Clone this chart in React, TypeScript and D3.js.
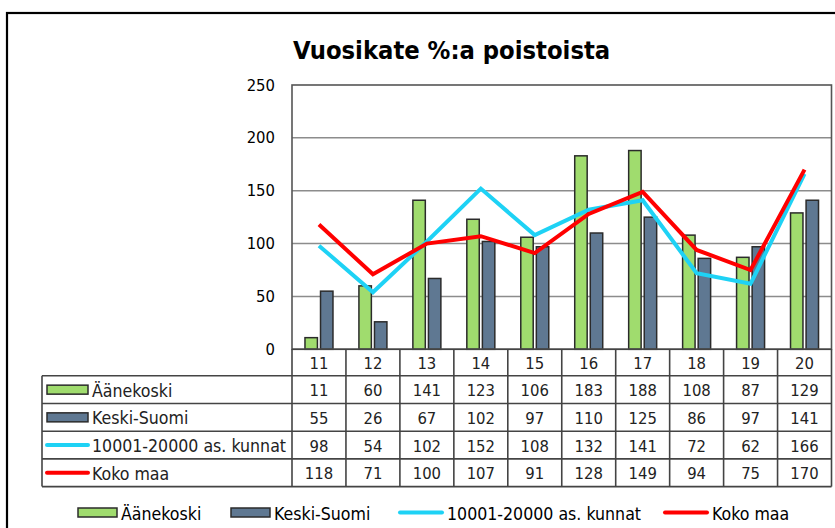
import {useEffect, useRef} from "react";
import * as d3 from "d3";

const categories = ["11", "12", "13", "14", "15", "16", "17", "18", "19", "20"];
const aanekoski = [11, 60, 141, 123, 106, 183, 188, 108, 87, 129];
const keskiSuomi = [55, 26, 67, 102, 97, 110, 125, 86, 97, 141];
const kunnat = [98, 54, 102, 152, 108, 132, 141, 72, 62, 166];
const kokoMaa = [118, 71, 100, 107, 91, 128, 149, 94, 75, 170];
const yTicks = [0, 50, 100, 150, 200, 250];

const GREEN = "#a0dc6e";
const BLUE = "#5f7892";
const CYAN = "#1ed2f5";
const RED = "#ff0000";
const FONT = "'DejaVu Sans Condensed', 'DejaVu Sans', sans-serif";

export default function App() {
    const ref = useRef<SVGSVGElement>(null);

    useEffect(() => {
        const svg = d3.select(ref.current);
        svg.selectAll("*").remove();

        const left = 292, right = 831.5, top = 85, bottom = 349.3;
        const headerH = 26.5, rowH = 27.7, tableLeft = 42;

        const x = d3.scaleBand().domain(categories).range([left, right]).padding(0);
        const y = d3.scaleLinear().domain([0, 250]).range([bottom, top]);
        const inner = d3.scaleBand().domain(["a", "k"]).range([-14, 14]).paddingInner(0.2);
        const cx = (c: string) => x(c)! + x.bandwidth() / 2;

        // outer frame
        svg.append("rect")
            .attr("x", 7).attr("y", 13)
            .attr("width", 900).attr("height", 600)
            .attr("fill", "none").attr("stroke", "#000").attr("stroke-width", 2.2);

        // title
        svg.append("text")
            .attr("x", 293).attr("y", 59)
            .attr("font-family", FONT).attr("font-weight", "bold").attr("font-size", 25.3)
            .attr("fill", "#000")
            .text("Vuosikate %:a poistoista");

        // gridlines
        svg.append("g").selectAll("line")
            .data(yTicks.filter(t => t > 0 && t < 250))
            .enter().append("line")
            .attr("x1", left).attr("x2", right)
            .attr("y1", d => y(d)).attr("y2", d => y(d))
            .attr("stroke", "#8c8c8c").attr("stroke-width", 1.5);

        // y tick labels
        svg.append("g").selectAll("text")
            .data(yTicks)
            .enter().append("text")
            .attr("x", 275).attr("y", d => y(d))
            .attr("text-anchor", "end").attr("dominant-baseline", "central")
            .attr("font-family", FONT).attr("font-size", 16.5).attr("fill", "#000")
            .text(d => d);

        // bars
        const bars = svg.append("g");
        [{vals: aanekoski, key: "a", color: GREEN}, {vals: keskiSuomi, key: "k", color: BLUE}].forEach(s => {
            bars.selectAll(null)
                .data(categories)
                .enter().append("rect")
                .attr("x", c => cx(c) + inner(s.key)!)
                .attr("width", inner.bandwidth())
                .attr("y", (c, i) => y(s.vals[i]))
                .attr("height", (c, i) => bottom - y(s.vals[i]))
                .attr("fill", s.color)
                .attr("stroke", "#2b2b2b").attr("stroke-width", 1.5);
        });

        // plot border
        svg.append("rect")
            .attr("x", left).attr("y", top)
            .attr("width", right - left).attr("height", bottom - top)
            .attr("fill", "none").attr("stroke", "#555").attr("stroke-width", 1.6);

        // lines
        const line = d3.line<number>()
            .x((d, i) => cx(categories[i]))
            .y(d => y(d));
        [{vals: kunnat, color: CYAN}, {vals: kokoMaa, color: RED}].forEach(s => {
            svg.append("path")
                .datum(s.vals)
                .attr("d", line)
                .attr("fill", "none")
                .attr("stroke", s.color)
                .attr("stroke-width", 4)
                .attr("stroke-linejoin", "miter");
        });

        // data table
        const series = [
            {name: "Äänekoski", vals: aanekoski, color: GREEN, type: "bar"},
            {name: "Keski-Suomi", vals: keskiSuomi, color: BLUE, type: "bar"},
            {name: "10001-20000 as. kunnat", vals: kunnat, color: CYAN, type: "line"},
            {name: "Koko maa", vals: kokoMaa, color: RED, type: "line"},
        ];
        const rowTop = bottom + headerH;
        const tableBottom = rowTop + rowH * series.length;
        const table = svg.append("g");
        const tableStroke = "#444";

        // horizontal lines
        table.append("line")
            .attr("x1", left).attr("x2", right).attr("y1", bottom).attr("y2", bottom)
            .attr("stroke", tableStroke).attr("stroke-width", 1.6);
        table.selectAll(null)
            .data(d3.range(series.length + 1))
            .enter().append("line")
            .attr("x1", tableLeft).attr("x2", right)
            .attr("y1", i => rowTop + i * rowH).attr("y2", i => rowTop + i * rowH)
            .attr("stroke", tableStroke).attr("stroke-width", 1.6);
        // vertical lines
        table.selectAll(null)
            .data([...categories.map(c => x(c)!), right])
            .enter().append("line")
            .attr("x1", d => d).attr("x2", d => d)
            .attr("y1", bottom).attr("y2", tableBottom)
            .attr("stroke", tableStroke).attr("stroke-width", 1.6);
        table.append("line")
            .attr("x1", tableLeft).attr("x2", tableLeft).attr("y1", rowTop).attr("y2", tableBottom)
            .attr("stroke", tableStroke).attr("stroke-width", 1.6);

        // header labels
        table.selectAll(null)
            .data(categories)
            .enter().append("text")
            .attr("x", c => cx(c)).attr("y", bottom + headerH / 2 + 1)
            .attr("text-anchor", "middle").attr("dominant-baseline", "central")
            .attr("font-family", FONT).attr("font-size", 16.5).attr("fill", "#222")
            .text(c => c);

        const drawKey = (g: d3.Selection<SVGGElement, unknown, null, undefined>, s: typeof series[0], x0: number, yc: number, w: number) => {
            if (s.type === "bar") {
                g.append("rect")
                    .attr("x", x0).attr("y", yc - 4.5).attr("width", w).attr("height", 9)
                    .attr("fill", s.color).attr("stroke", "#2b2b2b").attr("stroke-width", 1.5);
            } else {
                g.append("line")
                    .attr("x1", x0).attr("x2", x0 + w).attr("y1", yc).attr("y2", yc)
                    .attr("stroke", s.color).attr("stroke-width", 4).attr("stroke-linecap", "round");
            }
        };

        series.forEach((s, r) => {
            const yc = rowTop + r * rowH + rowH / 2;
            const g = table.append("g");
            drawKey(g, s, 47, yc, 41);
            g.append("text")
                .attr("x", 92).attr("y", yc + 1)
                .attr("dominant-baseline", "central")
                .attr("font-family", FONT).attr("font-size", 17.6).attr("fill", "#222")
                .text(s.name);
            g.selectAll(null)
                .data(s.vals)
                .enter().append("text")
                .attr("x", (d, i) => cx(categories[i])).attr("y", yc + 1)
                .attr("text-anchor", "middle").attr("dominant-baseline", "central")
                .attr("font-family", FONT).attr("font-size", 16.5).attr("fill", "#222")
                .text(d => d);
        });

        // bottom legend
        const legendX = [78, 231, 400, 665];
        const legendY = 512.5;
        series.forEach((s, i) => {
            const g = svg.append("g");
            drawKey(g, s, legendX[i], legendY, s.type === "bar" ? 39 : 42);
            g.append("text")
                .attr("x", legendX[i] + (s.type === "bar" ? 43 : 47)).attr("y", legendY + 1)
                .attr("dominant-baseline", "central")
                .attr("font-family", FONT).attr("font-size", 17.6).attr("fill", "#000")
                .text(s.name);
        });
    }, []);

    return <div style={{position: "absolute", left: 0, top: 0}}>
        <svg ref={ref} width={835} height={528} style={{display: "block", background: "#fff"}}/>
    </div>;
}
